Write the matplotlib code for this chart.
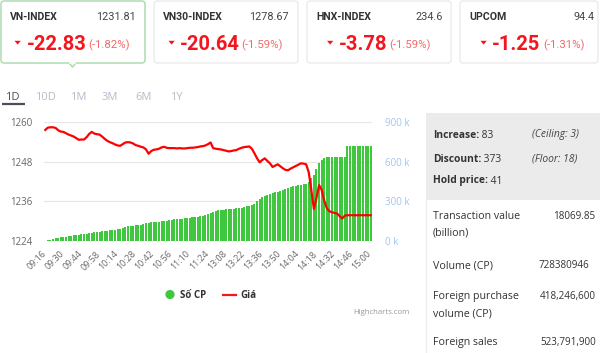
import numpy as np
import matplotlib
matplotlib.use('Agg')
import matplotlib.pyplot as plt
import matplotlib.transforms as mtransforms
from matplotlib.patches import FancyBboxPatch, Polygon, Circle, Rectangle

# ---- data ----
cards = ['VN-INDEX', 'VN30-INDEX', 'HNX-INDEX', 'UPCOM']
card_values = ['1231.81', '1278.67', '234.6', '94.4']
card_changes = ['-22.83', '-20.64', '-3.78', '-1.25']
card_pcts = ['(-1.82%)', '(-1.59%)', '(-1.59%)', '(-1.31%)']

tabs = ['1D', '10D', '1M', '3M', '6M', '1Y']

time_labels = ['09:16', '09:30', '09:44', '09:58', '10:14', '10:28', '10:42',
               '10:56', '11:10', '11:24', '13:08', '13:22', '13:36', '13:50',
               '14:04', '14:18', '14:32', '14:46', '15:00']

# index price (left axis)
price = [
    1257.6, 1258.3, 1258.4, 1258.4, 1258.2, 1257.5, 1257.1, 1257.0, 1256.6, 1256.2,
    1255.9, 1255.6, 1255.1, 1254.6, 1254.7, 1254.7, 1255.4, 1256.4, 1257.0, 1256.5,
    1256.3, 1256.2, 1255.6, 1254.9, 1254.3, 1253.9, 1253.6, 1253.2, 1252.9, 1252.8,
    1253.3, 1253.8, 1253.9, 1253.8, 1253.5, 1253.0, 1252.8, 1252.5, 1252.3, 1251.7,
    1250.4, 1251.2, 1251.6, 1251.7, 1251.9, 1252.3, 1252.5, 1252.2, 1252.1, 1252.1,
    1252.1, 1252.0, 1252.1, 1252.0, 1252.0, 1252.1, 1252.2, 1252.2, 1252.3, 1252.4,
    1252.6, 1252.7, 1252.9, 1253.3, 1253.8, 1252.1, 1251.9, 1251.8, 1251.7, 1251.5,
    1251.3, 1251.1, 1251.2, 1251.4, 1251.5, 1251.9, 1252.2, 1252.4, 1252.5, 1252.6,
    1251.9, 1250.5, 1249.0, 1247.8, 1248.5, 1249.0, 1248.2, 1247.5, 1246.4, 1246.8,
    1247.2, 1246.6, 1246.0, 1245.5, 1245.4, 1245.9, 1246.3, 1246.7, 1247.1, 1247.5,
    1247.4, 1247.2, 1244.8, 1239.5, 1233.7, 1237.0, 1240.9, 1239.5, 1236.2, 1233.9,
    1233.0, 1232.7, 1232.5, 1232.3, 1231.5, 1230.8, 1231.7, 1231.8, 1231.8, 1231.8,
    1231.8, 1231.8, 1231.8, 1231.8, 1231.8, 1231.8, 1231.8,
]

# cumulative volume, thousands of shares (right axis)
volume_k = [
    3, 6, 10, 14, 19, 24, 28, 31, 34, 37,
    39, 42, 45, 47, 50, 53, 56, 59, 62, 65,
    68, 70, 73, 76, 78, 81, 84, 86, 89, 91,
    96, 104, 110, 113, 116, 118, 120, 122, 127, 133,
    138, 140, 142, 144, 146, 149, 152, 155, 158, 161,
    163, 165, 167, 169, 171, 173, 175, 178, 181, 185,
    188, 192, 197, 203, 210, 218, 225, 232, 235, 237,
    239, 240, 242, 245, 247, 250, 253, 257, 262, 267,
    272, 278, 300, 318, 330, 340, 348, 356, 362, 367,
    372, 377, 382, 390, 400, 408, 413, 417, 420, 424,
    428, 433, 450, 475, 500, 545, 590, 613, 628, 633,
    633, 633, 633, 633, 633, 633, 633, 721, 721, 721,
    721, 721, 721, 721, 721, 721, 721,
]

breadth_labels = ['Increase:', 'Discount:', 'Hold price:']
breadth_values = ['83', '373', '41']
breadth_notes = ['(Ceiling: 3)', '(Floor: 18)', '']

stat_labels = [['Transaction value', '(billion)'], ['Volume (CP)'],
               ['Foreign purchase', 'volume (CP)'], ['Foreign sales']]
stat_values = ['18069.85', '728380946', '418,246,600', '523,791,900']

W, H = 600, 353
RED = '#f4161e'
GREEN = '#3fc83f'
SANS = ['Open Sans', 'DejaVu Sans']
ROBOTO = ['Roboto', 'DejaVu Sans']

fig = plt.figure(figsize=(W / 100, H / 100), dpi=100)
fig.patch.set_facecolor('white')

# overlay in pixel coordinates for the dashboard decorations
ov = fig.add_axes([0, 0, 1, 1])
ov.set_xlim(0, W)
ov.set_ylim(H, 0)
ov.axis('off')

# ---- index cards ----
card_x = [(1, 145), (154, 298), (307, 451), (460, 598)]
title_x = [9.5, 163, 316, 469]
value_r = [136, 289, 443, 595]
tri_x = [14.5, 168.5, 327, 480.5]
chg_x = [27, 180, 339, 492]
pct_x = [88, 241, 389, 543]
for k in range(4):
    x0, x1 = card_x[k]
    ec = '#a8d8a8' if k == 0 else '#ebebeb'
    ov.add_patch(FancyBboxPatch((x0, 1), x1 - x0, 62,
                                boxstyle='round,pad=0,rounding_size=3',
                                fc='white', ec=ec, lw=1.0))
    ov.text(title_x[k], 20, cards[k], family=ROBOTO, weight='bold',
            fontsize=7.6, color='#333333', va='baseline', ha='left')
    ov.text(value_r[k], 20, card_values[k], family=ROBOTO,
            fontsize=7.8, color='#444444', va='baseline', ha='right')
    ov.add_patch(Polygon([(tri_x[k], 40.8), (tri_x[k] + 6.3, 40.8),
                          (tri_x[k] + 3.15, 44.6)], closed=True,
                         fc=RED, ec='none'))
    ov.text(chg_x[k], 50, card_changes[k], family=ROBOTO, weight='bold',
            fontsize=14.5, color=RED, va='baseline', ha='left')
    ov.text(pct_x[k], 48.5, card_pcts[k], family=ROBOTO,
            fontsize=8.2, color='#f06a6a', va='baseline', ha='left')
# small pointer under the selected card
ov.plot([69.5, 72.5, 75.5], [63.5, 67, 63.5], color='#a8d8a8', lw=1.0)
ov.plot([70.3, 74.7], [63.2, 63.2], color='white', lw=1.2)

# ---- period tabs ----
tab_x = [5, 35, 70, 102, 135, 170]
for k, t in enumerate(tabs):
    ov.text(tab_x[k], 98, t, family=SANS, fontsize=8,
            color='#4a4f5a' if k == 0 else '#b4bccb', va='center', ha='left')
ov.plot([1.5, 25], [104, 104], color='#4a4f5a', lw=1.6, solid_capstyle='butt')

# ---- legend and credit ----
ov.add_patch(Circle((170, 294.5), 4.6, fc=GREEN, ec='none'))
ov.text(180, 295, 'Số CP', family=SANS, weight='bold', fontsize=7,
        color='#333333', va='center', ha='left')
ov.plot([223, 235.5], [294.5, 294.5], color=RED, lw=1.6)
ov.text(240, 295, 'Giá', family=SANS, weight='bold', fontsize=7,
        color='#333333', va='center', ha='left')
ov.text(409, 312, 'Highcharts.com', family=SANS, fontsize=5.6,
        color='#999999', va='center', ha='right')

# ---- market breadth panel ----
ov.add_patch(Rectangle((426, 113), 174, 87, fc='#ebebeb', ec='none'))
ov.plot([425.5, 425.5], [200, 353], color='#eeeeee', lw=1.0)
br_y = [135, 159, 181]
for k in range(3):
    t = ov.text(433, br_y[k], breadth_labels[k], family=SANS, weight='bold',
                fontsize=7.4, color='#333333', va='center', ha='left')
    ov.annotate(' ' + breadth_values[k], xycoords=t, xy=(1, 0.5),
                va='center', ha='left', family=SANS, fontsize=7.4,
                color='#333333')
    if breadth_notes[k]:
        ov.text(532, br_y[k], breadth_notes[k], family=SANS, style='italic',
                fontsize=7.4, color='#444444', va='center', ha='left')

# ---- trading statistics ----
st_y = [216.5, 266, 297, 343]
st_vr = [595, 589, 596, 596]
for k in range(4):
    for j, line in enumerate(stat_labels[k]):
        ov.text(433, st_y[k] + 16.5 * j, line, family=SANS, fontsize=7.7,
                color='#333333', va='center', ha='left')
    ov.text(st_vr[k], st_y[k], stat_values[k], family=SANS, fontsize=7.1,
            color='#333333', va='center', ha='right')

# ---- main chart ----
ax = fig.add_axes([44 / W, (H - 241) / H, 328 / W, 119 / H])
ax2 = ax.twinx()
ax.set_zorder(ax2.get_zorder() + 1)
ax.patch.set_visible(False)

idx = np.arange(len(price))
ax2.bar(idx, volume_k, width=0.78, color=GREEN, edgecolor='none', zorder=2)
ax2.set_ylim(0, 900)
ax2.set_yticks([0, 300, 600, 900])
ax2.set_yticklabels([f'{v} k' for v in [0, 300, 600, 900]])
ax2.grid(axis='y', color='#e6e6e6', lw=0.8, zorder=0)
ax2.set_axisbelow(True)
ax2.tick_params(axis='y', length=0, pad=9.4, labelsize=7, labelcolor='#9fc5ef')
for lab in ax2.get_yticklabels():
    lab.set_family(SANS)

ax.plot(idx, price, color='#ff0000', lw=1.6, solid_joinstyle='round', zorder=3)
ax.set_ylim(1224, 1260)
ax.set_yticks([1224, 1236, 1248, 1260])
ax.set_xlim(-0.5, len(price) - 0.5)
tick_pos = np.arange(0, len(price), 7)
ax.set_xticks(tick_pos)
ax.set_xticklabels(time_labels, rotation=45, ha='right', va='top',
                   rotation_mode='anchor')
ax.tick_params(axis='x', length=0, pad=6, labelsize=6.4, labelcolor='#666666')
ax.tick_params(axis='y', length=0, pad=8, labelsize=7, labelcolor='#666666')
shift = mtransforms.ScaledTranslation(-4 / 100, 0, fig.dpi_scale_trans)
for lab in ax.get_xticklabels():
    lab.set_transform(lab.get_transform() + shift)
for lab in ax.get_xticklabels() + ax.get_yticklabels():
    lab.set_family(SANS)

for a in (ax, ax2):
    for s in a.spines.values():
        s.set_visible(False)
ax2.tick_params(axis='x', length=0)

fig.savefig('out.png', dpi=100)
